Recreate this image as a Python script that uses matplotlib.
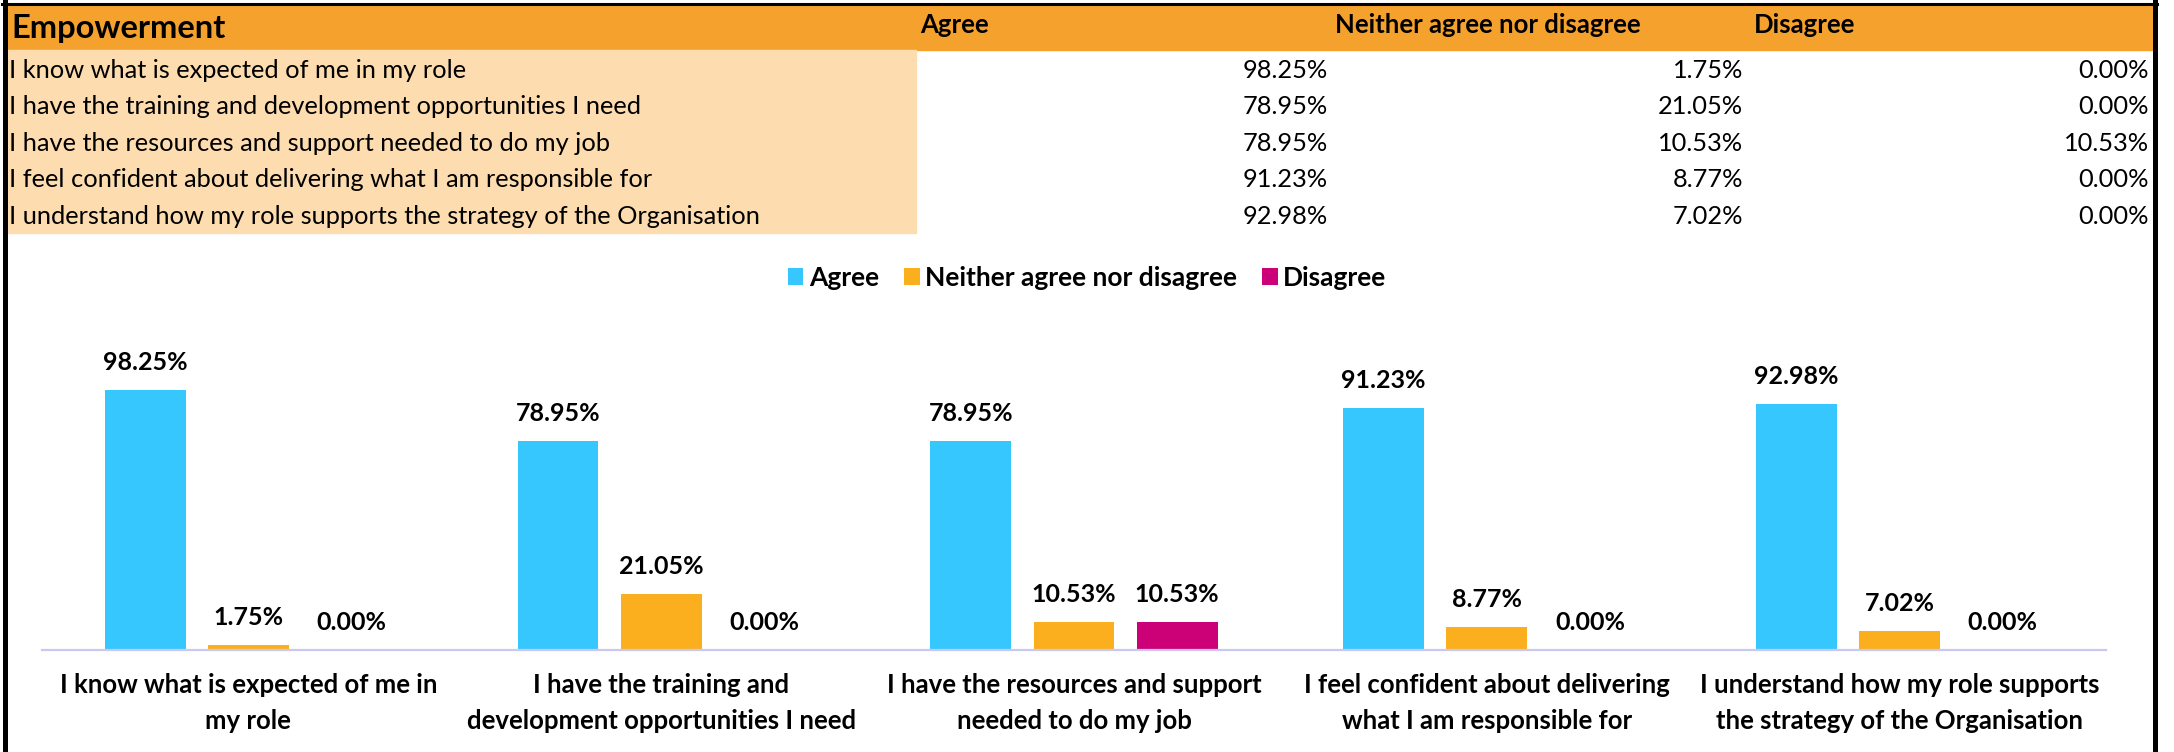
import matplotlib
matplotlib.use("Agg")
import matplotlib.pyplot as plt
import numpy as np
from matplotlib.patches import Rectangle
from matplotlib.lines import Line2D

plt.rcParams["font.family"] = ["Lato", "DejaVu Sans"]

# data
section = "Empowerment"
series = ["Agree", "Neither agree nor disagree", "Disagree"]
statements = [
    "I know what is expected of me in my role",
    "I have the training and development opportunities I need",
    "I have the resources and support needed to do my job",
    "I feel confident about delivering what I am responsible for",
    "I understand how my role supports the strategy of the Organisation",
]
short_labels = [
    "I know what is expected of me in\nmy role",
    "I have the training and\ndevelopment opportunities I need",
    "I have the resources and support\nneeded to do my job",
    "I feel confident about delivering\nwhat I am responsible for",
    "I understand how my role supports\nthe strategy of the Organisation",
]
agree = [98.25, 78.95, 78.95, 91.23, 92.98]
neither = [1.75, 21.05, 10.53, 8.77, 7.02]
disagree = [0.00, 0.00, 10.53, 0.00, 0.00]

colors = ["#36C7FF", "#FBAE1E", "#CC0077"]

W, H = 2174, 752
fig = plt.figure(figsize=(W / 100, H / 100), dpi=100)


def fx(px):
    return px / W


def fy(py):
    return 1 - py / H


# table part
fig.patches.append(Rectangle((fx(4), fy(50)), fx(2152) - fx(4), fy(4) - fy(50),
                             transform=fig.transFigure, color="#F5A12E", zorder=0))
fig.patches.append(Rectangle((fx(4), fy(233)), fx(916) - fx(4), fy(50) - fy(233),
                             transform=fig.transFigure, color="#FDDCAF", zorder=0))

fig.text(fx(11), fy(38), section, fontsize=23.5, fontweight="bold", va="baseline")
head_x = [920, 1335, 1754]
for x, name in zip(head_x, series):
    fig.text(fx(x), fy(33), name, fontsize=18.5, fontweight="bold", va="baseline")

col_right = [1328, 1743, 2149]
for i, s in enumerate(statements):
    yb = 77.5 + 36.6 * i
    fig.text(fx(9), fy(yb), s, fontsize=18.3, va="baseline")
    for x, vals in zip(col_right, [agree, neither, disagree]):
        fig.text(fx(x), fy(yb), f"{vals[i]:.2f}%", fontsize=18.3, va="baseline", ha="right")

# frame
fig.lines.append(Line2D([fx(4.5), fx(4.5)], [0, fy(2)], transform=fig.transFigure,
                        color="black", lw=3.6))
fig.lines.append(Line2D([fx(2), fx(2157)], [fy(3.5), fy(3.5)], transform=fig.transFigure,
                        color="black", lw=2.2))
fig.lines.append(Line2D([fx(2154.5), fx(2154.5)], [0, fy(2)], transform=fig.transFigure,
                        color="black", lw=3.6))

# chart
base = 650
ax = fig.add_axes([fx(42), fy(base), fx(2106) - fx(42), (265) / H])
x = np.arange(len(statements))
width = 0.196
step = 0.25
for j, (vals, name) in enumerate(zip([agree, neither, disagree], series)):
    pos = x + (j - 1) * step
    ax.bar(pos, np.array(vals) / 100, width, color=colors[j], label=name, zorder=2)
    for p, v in zip(pos, vals):
        ax.annotate(f"{v:.2f}%", (p, v / 100), xytext=(0, 14.4), textcoords="offset points",
                    ha="center", va="baseline", fontsize=18, fontweight="bold",
                    annotation_clip=False)

ax.set_xlim(-0.5, 4.5)
ax.set_ylim(0, 1.0)
for sp in ["top", "left", "right"]:
    ax.spines[sp].set_visible(False)
ax.spines["bottom"].set_color("#C9C9F0")
ax.spines["bottom"].set_linewidth(1.6)
ax.set_yticks([])
ax.set_xticks(x)
ax.set_xticklabels(short_labels, fontsize=18.5, fontweight="bold", linespacing=1.6)
ax.tick_params(axis="x", length=0, pad=16.5)
ax.patch.set_alpha(0)

ax.legend(loc="center", bbox_to_anchor=(0.5, fy(278)), bbox_transform=fig.transFigure,
          ncol=3, frameon=False, prop={"size": 19, "weight": "bold"},
          handlelength=0.6, handleheight=0.6, handletextpad=0.2, columnspacing=0.95)

plt.savefig("out.png", dpi=100)
